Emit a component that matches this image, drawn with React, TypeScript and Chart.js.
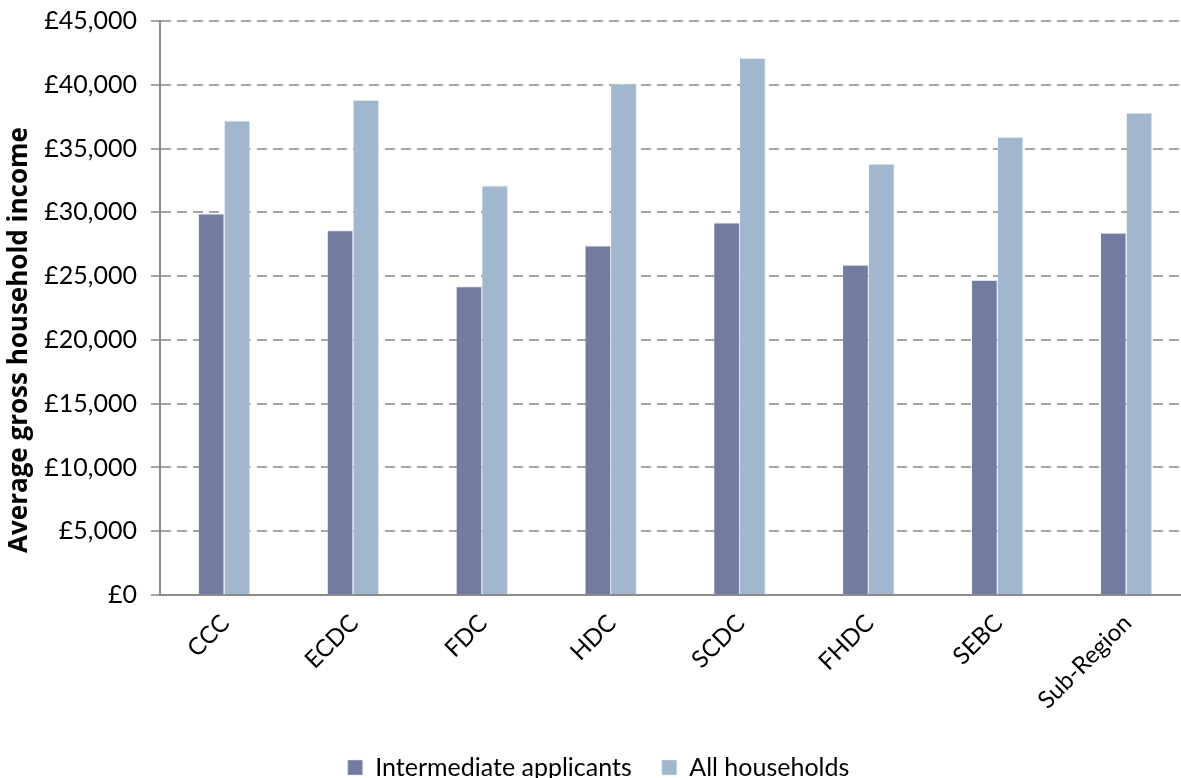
import React, { useEffect, useRef } from "react";
import { Chart, registerables } from "chart.js";

Chart.register(...registerables);

const categories = ["CCC", "ECDC", "FDC", "HDC", "SCDC", "FHDC", "SEBC", "Sub-Region"];
const intermediateApplicants = [29900, 28600, 24200, 27400, 29200, 25900, 24700, 28400];
const allHouseholds = [37200, 38800, 32100, 40100, 42100, 33800, 35900, 37800];
const seriesNames = ["Intermediate applicants", "All households"];
const yTitle = "Average gross household income";

const yTitlePlugin = {
  id: "yTitleCustom",
  afterDraw(chart: any) {
    const ctx = chart.ctx;
    ctx.save();
    ctx.translate(20, 340);
    ctx.rotate(-Math.PI / 2);
    ctx.font = 'bold 26px "Open Sans"';
    ctx.fillStyle = "#000";
    ctx.textAlign = "center";
    ctx.textBaseline = "middle";
    ctx.fillText(yTitle, 0, 0);
    ctx.restore();
  },
};

const legendShiftPlugin = {
  id: "legendShift",
  afterLayout(chart: any) {
    const l = chart.legend;
    if (l) {
      l.top += 12;
      l.bottom += 12;
    }
  },
};

export default function App() {
  const ref = useRef<HTMLCanvasElement | null>(null);
  useEffect(() => {
    if (!ref.current) return;
    const chart = new Chart(ref.current, {
      type: "bar",
      data: {
        labels: categories,
        datasets: [
          {
            label: seriesNames[0],
            data: intermediateApplicants,
            backgroundColor: "#727ca0",
            borderColor: "#dfe3ec",
            borderWidth: { top: 1, left: 0, right: 1, bottom: 0 },
            barPercentage: 1,
            categoryPercentage: 0.4,
          },
          {
            label: seriesNames[1],
            data: allHouseholds,
            backgroundColor: "#a1b7cd",
            borderColor: "#dfe7f0",
            borderWidth: { top: 1, left: 0, right: 1, bottom: 0 },
            barPercentage: 1,
            categoryPercentage: 0.4,
          },
        ],
      },
      options: {
        animation: false,
        responsive: true,
        maintainAspectRatio: false,
        layout: { padding: { left: 6, right: 4, top: 21, bottom: 0 } },
        plugins: {
          tooltip: { enabled: false },
          legend: {
            position: "bottom",
            labels: {
              boxWidth: 15,
              boxHeight: 15,
              color: "#000",
              padding: 30,
              font: { family: "Lato", size: 25 },
            },
          },
        },
        scales: {
          x: {
            grid: { display: false, drawTicks: false },
            border: { display: true, color: "#8c8c8c", width: 2 },
            ticks: {
              color: "#000",
              minRotation: 45,
              maxRotation: 45,
              padding: 14,
              labelOffset: 1,
              font: { family: "Lato", size: 24 },
            },
            afterFit: (s: any) => {
              s.height = 118;
              s.paddingLeft = 0;
              s.paddingRight = 0;
            },
          },
          y: {
            min: 0,
            max: 45000,
            ticks: {
              stepSize: 5000,
              color: "#000",
              padding: 14,
              font: { family: "Lato", size: 25 },
              callback: (v: any) => "£" + Number(v).toLocaleString("en-GB"),
            },
            grid: {
              color: "#a6a6a6",
              lineWidth: 2,
              tickLength: 9,
              tickColor: "#a6a6a6",
              tickWidth: 2,
            },
            border: { display: true, color: "#8c8c8c", width: 2, dash: [10, 6] },
            title: { display: false, text: yTitle },
            afterFit: (s: any) => {
              s.width = 154;
              s.paddingTop = 0;
              s.paddingBottom = 0;
            },
          },
        },
      },
      plugins: [yTitlePlugin, legendShiftPlugin],
    } as any);
    return () => chart.destroy();
  }, []);
  return (
    <div style={{ position: "fixed", left: 0, top: 0, width: 1181, height: 778, overflow: "hidden", background: "#fff" }}>
      <div style={{ position: "relative", width: 1195, height: 778 }}>
        <canvas ref={ref} />
      </div>
    </div>
  );
}
